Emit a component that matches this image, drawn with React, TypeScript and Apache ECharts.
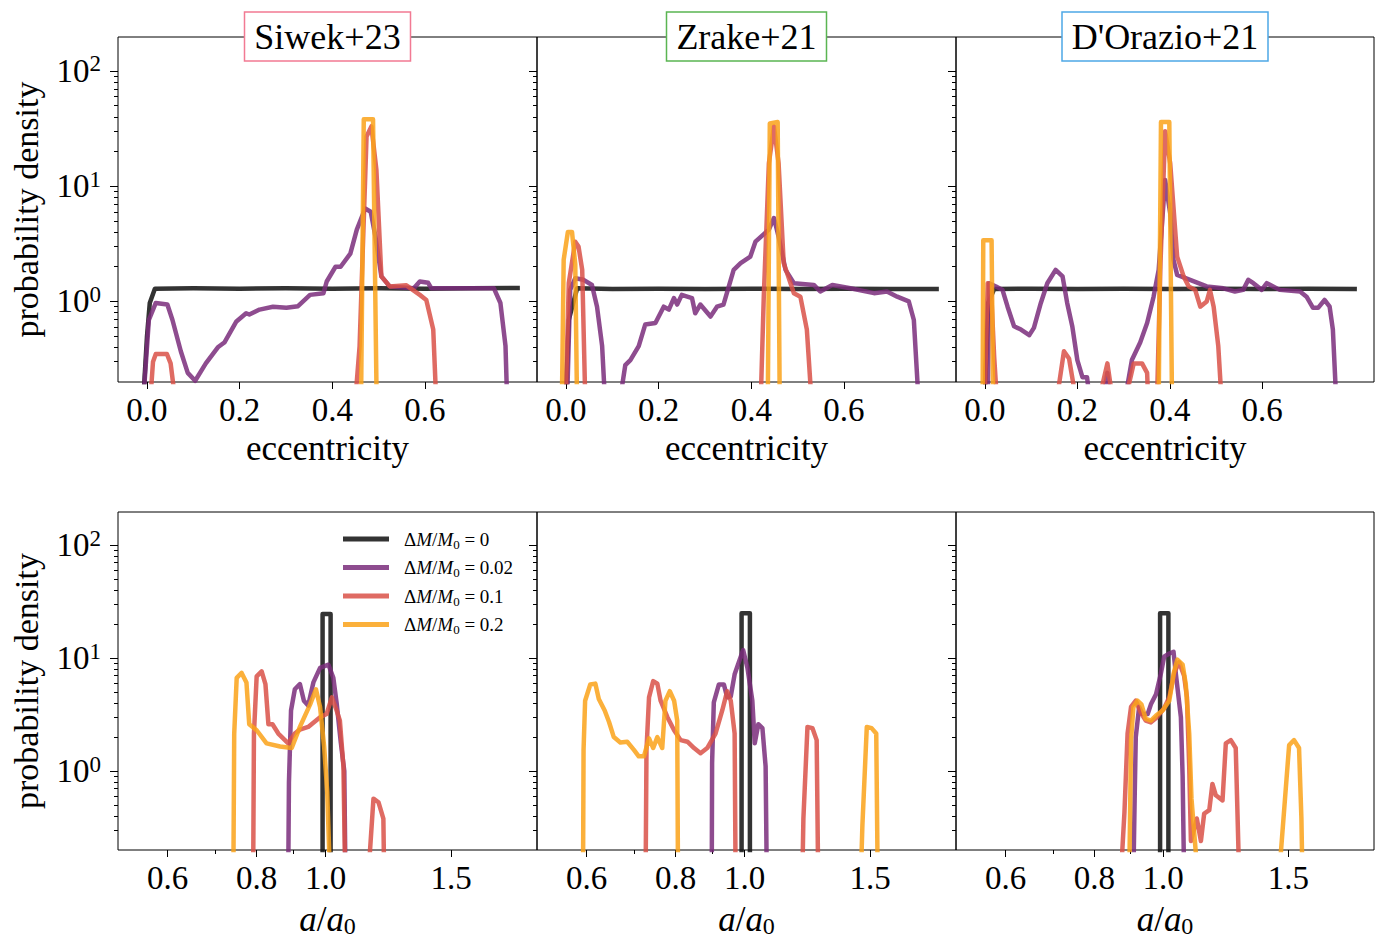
import React, { useEffect, useRef } from 'react';
import * as echarts from 'echarts';

const FONT = "'Liberation Serif', 'DejaVu Serif', serif";
// value used for points that fall below the visible floor of the log axis
const F = 0.12;

const NAMES = ['ΔM/M0 = 0', 'ΔM/M0 = 0.02', 'ΔM/M0 = 0.1', 'ΔM/M0 = 0.2'];
const DM_LABELS = ['0', '0.02', '0.1', '0.2'];
const COLORS = ['#0f0f0f', '#7a2d7b', '#d95148', '#faa219'];
const PANEL_TITLES = ['Siwek+23', 'Zrake+21', "D'Orazio+21"];
const TITLE_COLORS = ['#f27a93', '#5ab552', '#4ea8e6'];

const ECC_TICKS = [0, 0.2, 0.4, 0.6];
const A_TICKS = [0.6, 0.8, 1.0, 1.5];
const A_MINOR = [0.7, 0.9];
const Y_MAJOR = [1, 10, 100];
const Y_MINOR = [0.3, 0.4, 0.5, 0.6, 0.7, 0.8, 0.9, 2, 3, 4, 5, 6, 7, 8, 9, 20, 30, 40, 50, 60, 70, 80, 90];

// ---------- eccentricity distributions (top row) ----------
const siwekEcc0 = [[-0.009, F], [0.0, 0.5], [0.006, 0.97], [0.017, 1.29], [0.1, 1.3], [0.2, 1.29], [0.3, 1.3], [0.4, 1.29], [0.5, 1.3], [0.6, 1.29], [0.7, 1.3], [0.805, 1.31]];
const siwekEcc002 = [[-0.009, F], [0.004, 0.69], [0.019, 0.97], [0.044, 0.94], [0.055, 0.69], [0.073, 0.37], [0.088, 0.24], [0.104, 0.205], [0.127, 0.29], [0.153, 0.4], [0.167, 0.44], [0.193, 0.67], [0.214, 0.79], [0.221, 0.77], [0.243, 0.85], [0.272, 0.9], [0.301, 0.88], [0.326, 0.91], [0.352, 1.14], [0.381, 1.18], [0.388, 1.49], [0.407, 2.0], [0.418, 2.0], [0.439, 2.6], [0.453, 4.2], [0.471, 6.4], [0.483, 6.0], [0.493, 3.7], [0.506, 1.65], [0.524, 1.35], [0.576, 1.3], [0.589, 1.49], [0.607, 1.45], [0.614, 1.3], [0.749, 1.3], [0.763, 0.97], [0.774, 0.41], [0.778, F]];
const siwekEcc01 = [[0.006, F], [0.013, 0.3], [0.019, 0.35], [0.043, 0.35], [0.051, 0.29], [0.063, F], [0.4485, F], [0.459, 0.41], [0.474, 27], [0.4845, 33], [0.4953, 13.8], [0.506, 1.65], [0.524, 1.35], [0.56, 1.38], [0.589, 1.14], [0.603, 1.03], [0.618, 0.57], [0.625, F]];
const siwekEcc02 = [[0.462, F], [0.468, 38], [0.488, 38], [0.496, F]];

const zrakeEcc0 = [[-0.001, F], [0.006, 0.69], [0.024, 1.3], [0.1, 1.28], [0.2, 1.29], [0.3, 1.28], [0.4, 1.29], [0.5, 1.28], [0.6, 1.29], [0.7, 1.28], [0.805, 1.28]];
const zrakeEcc002 = [[0.002, F], [0.009, 1.26], [0.02, 1.59], [0.038, 1.54], [0.056, 1.39], [0.067, 0.9], [0.078, 0.41], [0.085, F], [0.114, F], [0.128, 0.28], [0.139, 0.31], [0.157, 0.41], [0.171, 0.63], [0.193, 0.65], [0.211, 0.9], [0.222, 0.85], [0.233, 1.07], [0.24, 0.94], [0.25, 1.14], [0.272, 1.07], [0.279, 0.79], [0.29, 0.94], [0.312, 0.74], [0.326, 0.9], [0.34, 0.94], [0.362, 1.88], [0.377, 2.15], [0.398, 2.45], [0.409, 3.3], [0.438, 4.2], [0.449, 5.3], [0.459, 3.65], [0.474, 1.88], [0.492, 1.44], [0.535, 1.39], [0.549, 1.22], [0.575, 1.39], [0.614, 1.3], [0.665, 1.18], [0.693, 1.22], [0.715, 1.1], [0.74, 1.0], [0.751, 0.69], [0.762, F]];
const zrakeEcc01 = [[-0.001, F], [0.006, 1.44], [0.02, 3.3], [0.027, 3.0], [0.035, 1.88], [0.042, F], [0.42, F], [0.427, 1.1], [0.438, 15.8], [0.449, 33], [0.459, 15.8], [0.47, 2.15], [0.492, 1.18], [0.506, 1.1], [0.52, 0.57], [0.531, F]];
const zrakeEcc02 = [[-0.009, F], [-0.005, 2.3], [0.004, 4.0], [0.013, 4.0], [0.02, 2.1], [0.024, F], [0.4356, F], [0.44, 35], [0.457, 36], [0.4615, F]];

const dorazioEcc0 = [[-0.001, F], [0.007, 0.97], [0.02, 1.28], [0.1, 1.29], [0.2, 1.28], [0.3, 1.29], [0.4, 1.28], [0.5, 1.29], [0.6, 1.28], [0.7, 1.29], [0.805, 1.28]];
const dorazioEcc002 = [[0.006, F], [0.009, 1.44], [0.024, 1.35], [0.038, 1.26], [0.049, 0.9], [0.063, 0.61], [0.078, 0.57], [0.096, 0.51], [0.106, 0.59], [0.121, 0.97], [0.135, 1.44], [0.153, 1.88], [0.168, 1.65], [0.178, 0.97], [0.189, 0.61], [0.2, 0.31], [0.211, 0.22], [0.221, 0.22], [0.229, F], [0.254, F], [0.265, 0.24], [0.272, F], [0.3, F], [0.318, 0.31], [0.336, 0.44], [0.351, 0.65], [0.365, 1.1], [0.376, 1.88], [0.39, 11.3], [0.401, 5.8], [0.408, 2.3], [0.416, 1.7], [0.444, 1.54], [0.48, 1.35], [0.516, 1.3], [0.541, 1.22], [0.559, 1.26], [0.57, 1.54], [0.581, 1.44], [0.599, 1.26], [0.61, 1.44], [0.638, 1.26], [0.682, 1.22], [0.696, 1.1], [0.71, 0.88], [0.721, 0.88], [0.735, 1.03], [0.746, 0.9], [0.753, 0.57], [0.761, F]];
const dorazioEcc01 = [[-0.001, F], [0.006, 1.44], [0.013, 1.35], [0.02, 0.33], [0.027, F], [0.153, F], [0.171, 0.37], [0.182, 0.32], [0.2, F], [0.243, F], [0.265, 0.29], [0.279, F], [0.3, F], [0.322, 0.29], [0.34, 0.29], [0.351, 0.24], [0.354, F], [0.372, F], [0.38, 2.15], [0.39, 30], [0.401, 15.8], [0.416, 2.45], [0.43, 1.65], [0.441, 1.35], [0.455, 1.26], [0.466, 0.9], [0.48, 1.0], [0.487, 1.26], [0.495, 0.9], [0.505, 0.41], [0.513, F]];
const dorazioEcc02 = [[-0.005, F], [-0.0036, 3.4], [0.0144, 3.4], [0.018, F], [0.376, F], [0.381, 36], [0.399, 36], [0.405, F]];

// ---------- a/a0 distributions (bottom row) ----------
const siwekA0 = [[0.99, F], [0.99, 24.6], [1.016, 24.6], [1.016, F]];
const siwekA002 = [[0.886, F], [0.888, 0.79], [0.894, 3.44], [0.905, 5.3], [0.92, 5.9], [0.932, 4.2], [0.945, 3.8], [0.961, 6.1], [0.982, 8.2], [1.009, 8.75], [1.025, 6.7], [1.036, 4.0], [1.05, 1.8], [1.062, 1.0], [1.066, F]];
const siwekA01 = [[0.791, F], [0.793, 2.15], [0.8, 6.9], [0.813, 7.65], [0.823, 5.9], [0.831, 2.6], [0.842, 2.6], [0.858, 2.15], [0.886, 1.76], [0.905, 2.15], [0.92, 2.33], [0.945, 2.46], [0.982, 3.0], [1.003, 3.2], [1.02, 4.5], [1.036, 3.44], [1.047, 2.8], [1.059, 1.1], [1.065, F], [1.148, F], [1.167, 0.57], [1.186, 0.53], [1.205, 0.38], [1.208, F]];
const siwekA02 = [[0.742, F], [0.744, 2.15], [0.75, 6.7], [0.762, 7.4], [0.774, 6.1], [0.781, 2.6], [0.8, 2.3], [0.826, 1.76], [0.863, 1.65], [0.896, 1.6], [0.92, 2.46], [0.951, 3.9], [0.969, 5.3], [0.982, 3.7], [0.995, 1.65], [1.005, 0.65], [1.014, F]];

const zrakeA0 = [[0.99, F], [0.99, 25], [1.017, 25], [1.017, F]];
const zrakeA002 = [[0.899, F], [0.9, 1.18], [0.905, 4.06], [0.92, 5.85], [0.935, 5.85], [0.945, 4.5], [0.956, 4.6], [0.968, 7.2], [0.982, 9.35], [0.995, 11.8], [1.009, 8.2], [1.025, 4.2], [1.033, 1.76], [1.045, 2.6], [1.059, 2.4], [1.07, 1.1], [1.074, F]];
const zrakeA01 = [[0.726, F], [0.728, 1.54], [0.734, 4.5], [0.744, 6.27], [0.754, 5.95], [0.762, 4.2], [0.779, 3.0], [0.796, 2.3], [0.813, 1.88], [0.831, 1.82], [0.849, 1.6], [0.867, 1.44], [0.886, 1.6], [0.91, 2.15], [0.93, 3.44], [0.945, 5.1], [0.956, 4.2], [0.968, 2.15], [0.971, F], [1.205, F], [1.209, 0.38], [1.225, 2.46], [1.245, 2.4], [1.262, 1.88], [1.268, F]];
const zrakeA02 = [[0.593, F], [0.594, 1.54], [0.597, 4.2], [0.607, 5.85], [0.617, 5.95], [0.624, 4.35], [0.636, 3.44], [0.645, 2.72], [0.655, 2.0], [0.669, 1.79], [0.684, 1.82], [0.699, 1.54], [0.71, 1.35], [0.722, 1.35], [0.734, 1.95], [0.744, 1.6], [0.754, 2.0], [0.766, 1.6], [0.774, 4.2], [0.785, 5.1], [0.796, 4.2], [0.804, 2.8], [0.806, F], [1.456, F], [1.463, 0.33], [1.484, 2.46], [1.507, 2.4], [1.53, 2.15], [1.537, F]];

const dorazioA0 = [[0.99, F], [0.99, 25], [1.017, 25], [1.017, F]];
const dorazioA002 = [[0.908, F], [0.912, 0.65], [0.915, 2.0], [0.925, 3.7], [0.935, 3.2], [0.951, 3.2], [0.961, 3.9], [0.977, 4.8], [0.992, 7.2], [1.003, 10.3], [1.02, 11.0], [1.034, 11.4], [1.042, 7.2], [1.059, 3.0], [1.065, 0.9], [1.07, F]];
const dorazioA01 = [[0.872, F], [0.882, 0.43], [0.891, 2.15], [0.901, 3.7], [0.915, 4.2], [0.93, 3.3], [0.945, 2.8], [0.961, 2.7], [0.98, 3.0], [1.003, 3.6], [1.02, 4.5], [1.036, 7.4], [1.053, 9.2], [1.07, 7.0], [1.08, 4.5], [1.088, 1.1], [1.094, 0.24], [1.115, 0.38], [1.13, 0.24], [1.142, 0.42], [1.161, 0.45], [1.173, 0.77], [1.186, 0.61], [1.212, 0.55], [1.225, 1.76], [1.245, 1.88], [1.265, 1.6], [1.279, F]];
const dorazioA02 = [[0.896, F], [0.901, 1.88], [0.908, 3.7], [0.92, 4.2], [0.932, 3.9], [0.945, 2.9], [0.961, 2.8], [0.977, 3.1], [0.998, 3.44], [1.02, 4.2], [1.036, 7.65], [1.047, 9.7], [1.065, 8.75], [1.076, 5.85], [1.088, 2.15], [1.096, 0.57], [1.118, F], [1.456, F], [1.484, 0.57], [1.504, 1.7], [1.528, 1.88], [1.553, 1.6], [1.565, 0.38], [1.57, F]];

const PANELS = [
  [siwekEcc0, siwekEcc002, siwekEcc01, siwekEcc02],
  [zrakeEcc0, zrakeEcc002, zrakeEcc01, zrakeEcc02],
  [dorazioEcc0, dorazioEcc002, dorazioEcc01, dorazioEcc02],
  [siwekA0, siwekA002, siwekA01, siwekA02],
  [zrakeA0, zrakeA002, zrakeA01, zrakeA02],
  [dorazioA0, dorazioA002, dorazioA01, dorazioA02],
];

const COL_LEFT = [118, 537, 956];
const COL_WIDTH = [419, 419, 418];
const ROW_TOP = [37, 512];
const ROW_H = 345;

function buildOption() {
  const grid: any[] = [];
  const xAxis: any[] = [];
  const yAxis: any[] = [];
  const series: any[] = [];
  const tickLine = { color: '#000', width: 1 };
  const noLine = { show: false, onZero: false };

  for (let r = 0; r < 2; r++) {
    for (let c = 0; c < 3; c++) {
      grid.push({ left: COL_LEFT[c], top: ROW_TOP[r], width: COL_WIDTH[c], height: ROW_H, show: true, borderColor: '#000', borderWidth: 1, backgroundColor: 'transparent' });
    }
  }
  // primary x axes
  for (let g = 0; g < 6; g++) {
    const top = g < 3;
    xAxis.push({
      type: top ? 'value' : 'log',
      logBase: 10,
      gridIndex: g,
      position: 'bottom',
      min: top ? -0.0626 : 0.511,
      max: top ? 0.842 : 1.98,
      axisLine: noLine,
      splitLine: { show: false },
      minorTick: { show: false },
      axisTick: { show: true, customValues: top ? ECC_TICKS : A_TICKS, length: 7, lineStyle: tickLine },
      axisLabel: {
        customValues: top ? ECC_TICKS : A_TICKS,
        formatter: (v: number) => Number(v).toFixed(1),
        fontFamily: FONT, fontSize: 33, color: '#000', margin: 11,
      },
      name: top ? 'eccentricity' : '{i|a}/{i|a}{s|0}',
      nameLocation: 'middle',
      nameGap: top ? 49 : 50,
      nameTextStyle: {
        fontFamily: FONT, fontSize: 35, color: '#000',
        rich: {
          i: { fontFamily: FONT, fontSize: 35, fontStyle: 'italic', color: '#000' },
          s: { fontFamily: FONT, fontSize: 24, color: '#000', padding: [14, 0, 0, 0] },
        },
      },
    });
  }
  // minor x ticks for log axes
  for (let g = 3; g < 6; g++) {
    xAxis.push({
      type: 'log', logBase: 10, gridIndex: g, position: 'bottom', min: 0.511, max: 1.98,
      axisLine: noLine, splitLine: { show: false },
      axisTick: { show: true, customValues: A_MINOR, length: 4, lineStyle: tickLine },
      axisLabel: { show: false },
    });
  }
  // primary y axes
  for (let g = 0; g < 6; g++) {
    const first = g % 3 === 0;
    yAxis.push({
      type: 'log', logBase: 10, gridIndex: g, position: 'left', min: 0.2, max: 197,
      axisLine: noLine, splitLine: { show: false }, minorTick: { show: false },
      axisTick: { show: true, customValues: Y_MAJOR, length: 8, lineStyle: tickLine },
      axisLabel: {
        show: first,
        customValues: Y_MAJOR,
        formatter: (v: number) => `10{sup|${Math.round(Math.log10(v))}}`,
        fontFamily: FONT, fontSize: 33, color: '#000', margin: 17,
        rich: { sup: { fontFamily: FONT, fontSize: 23, color: '#000', padding: [0, 0, 14, 0] } },
      },
      name: first ? 'probability density' : '',
      nameLocation: 'middle',
      nameGap: 75,
      nameTextStyle: { fontFamily: FONT, fontSize: 34, color: '#000' },
    });
  }
  // minor y ticks
  for (let g = 0; g < 6; g++) {
    yAxis.push({
      type: 'log', logBase: 10, gridIndex: g, position: 'left', min: 0.2, max: 197,
      axisLine: noLine, splitLine: { show: false },
      axisTick: { show: true, customValues: Y_MINOR, length: 4, lineStyle: tickLine },
      axisLabel: { show: false },
    });
  }

  PANELS.forEach((panel, g) => {
    panel.forEach((data, k) => {
      series.push({
        type: 'line',
        name: NAMES[k],
        xAxisIndex: g,
        yAxisIndex: g,
        data,
        symbol: 'none',
        showSymbol: false,
        clip: true,
        silent: true,
        color: COLORS[k],
        itemStyle: { color: COLORS[k], opacity: 0.85 },
        lineStyle: { color: COLORS[k], width: 4.5, opacity: 0.85, join: 'round', cap: 'butt' },
        z: 2 + k,
      });
    });
  });

  const title = PANEL_TITLES.map((t, c) => ({
    text: t,
    left: COL_LEFT[c] + COL_WIDTH[c] / 2 - 10,
    top: 12,
    textAlign: 'center',
    padding: [4, 10, 4, 10],
    borderColor: TITLE_COLORS[c],
    borderWidth: 1.5,
    backgroundColor: '#fff',
    textStyle: { fontFamily: FONT, fontSize: 36, fontWeight: 'normal', color: '#000', lineHeight: 41 },
  }));

  return {
    animation: false,
    backgroundColor: '#fff',
    title,
    grid,
    xAxis,
    yAxis,
    series,
    legend: {
      left: 343, top: 528, padding: 0, orient: 'vertical', icon: 'rect', itemWidth: 46, itemHeight: 5, itemGap: 6,
      selectedMode: false,
      data: NAMES,
      formatter: (name: string) => {
        const i = NAMES.indexOf(name);
        return `{g| }Δ{i|M}/{i|M}{s|0} = ${DM_LABELS[i]}`;
      },
      textStyle: {
        fontFamily: FONT, fontSize: 19, color: '#000', lineHeight: 22,
        rich: {
          g: { width: 10 },
          i: { fontFamily: FONT, fontSize: 19, fontStyle: 'italic', color: '#000' },
          s: { fontFamily: FONT, fontSize: 13, color: '#000', padding: [10, 0, 0, 0] },
        },
      },
    },
  };
}

export default function App() {
  const ref = useRef<HTMLDivElement>(null);
  useEffect(() => {
    const chart = echarts.init(ref.current!, undefined, { renderer: 'svg' });
    chart.setOption(buildOption() as any);
    return () => chart.dispose();
  }, []);
  return (
    <div
      ref={ref}
      style={{ position: 'fixed', left: 0, top: 0, width: 1385, height: 939, background: '#fff' }}
    />
  );
}
